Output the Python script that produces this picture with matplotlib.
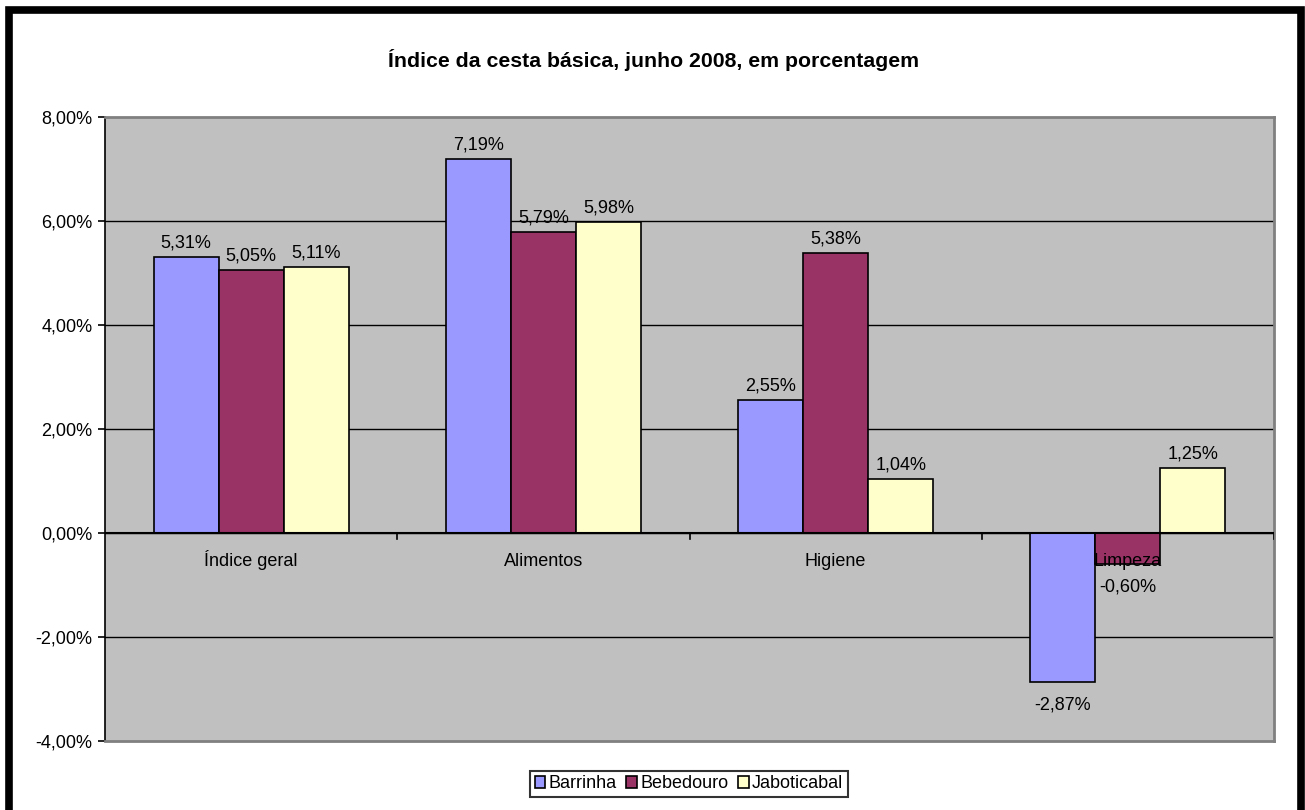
import numpy as np
import matplotlib.pyplot as plt
from matplotlib.patches import Rectangle

plt.rcParams['font.family'] = ['Liberation Sans', 'DejaVu Sans']

categorias = ['Índice geral', 'Alimentos', 'Higiene', 'Limpeza']
cidades = ['Barrinha', 'Bebedouro', 'Jaboticabal']
barrinha = [5.31, 7.19, 2.55, -2.87]
bebedouro = [5.05, 5.79, 5.38, -0.60]
jaboticabal = [5.11, 5.98, 1.04, 1.25]
cores = ['#9999FF', '#993366', '#FFFFCC']
yticks = [-4, -2, 0, 2, 4, 6, 8]


def fmt(v):
    return '{:.2f}%'.format(v).replace('.', ',')


fig = plt.figure(figsize=(13.05, 8.1), dpi=100)
ax = fig.add_axes([105/1305, 69/810, 1169/1305, 624/810])
ax.set_facecolor('#C0C0C0')

x = np.arange(len(categorias))
w = 0.2225
series = [barrinha, bebedouro, jaboticabal]
for i, (nome, vals) in enumerate(zip(cidades, series)):
    pos = x + (i - 1) * w
    ax.bar(pos, vals, w, color=cores[i], edgecolor='black', linewidth=1.2,
           label=nome, zorder=3)
    for p, v in zip(pos, vals):
        if v >= 0:
            ax.text(p, v + 0.19, fmt(v), ha='center', va='baseline', fontsize=13, zorder=5)
        else:
            ax.text(p, v - 0.27, fmt(v), ha='center', va='top', fontsize=13, zorder=5)

ax.set_xlim(-0.5, len(categorias) - 0.5)
ax.set_ylim(-4, 8)
ax.set_yticks(yticks)
ax.set_yticklabels([fmt(v) for v in yticks], fontsize=13)
for v in yticks[1:-1]:
    ax.axhline(v, color='black', linewidth=1, zorder=1)
ax.axhline(0, color='black', linewidth=1.5, zorder=4)

# category labels and ticks on the zero line
ax.set_xticks([])
for xi, c in zip(x, categorias):
    ax.text(xi, -0.635, c, ha='center', va='baseline', fontsize=13, zorder=6)
for b in np.arange(0.5, len(categorias), 1):
    ax.plot([b, b], [0, -0.12], color='black', linewidth=1.2, zorder=4)

for s in ['top', 'right', 'bottom']:
    ax.spines[s].set_color('#808080')
    ax.spines[s].set_linewidth(2)
ax.spines['left'].set_color('black')
ax.spines['left'].set_linewidth(1.2)
ax.tick_params(axis='y', length=5, width=1.2, pad=4)

fig.text(654/1305, 1 - 60/810, 'Índice da cesta básica, junho 2008, em porcentagem',
         ha='center', va='center', fontsize=15.3, fontweight='bold')

leg = fig.legend(loc='center', bbox_to_anchor=(689/1305, 1 - 784/810), ncol=3,
                 fontsize=13, frameon=True, fancybox=False, edgecolor='black',
                 handlelength=0.6, handleheight=0.6, handletextpad=0.2,
                 columnspacing=0.5, borderpad=0.25, borderaxespad=0)
leg.get_frame().set_linewidth(1.5)

# black outer border
fig.patches.append(Rectangle((8.5/1305, -0.05), 1292/1305, 1 - 10/810 + 0.05,
                             transform=fig.transFigure, fill=False,
                             edgecolor='black', linewidth=5.5))

fig.savefig('out.png', dpi=100, facecolor='white')
